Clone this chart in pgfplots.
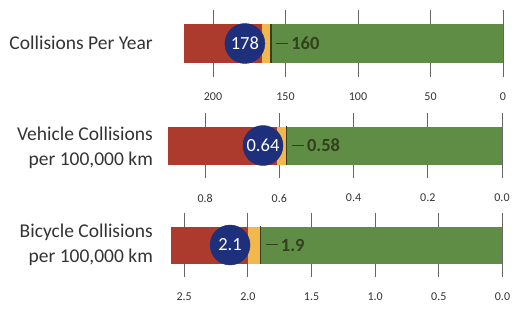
\documentclass[border=0pt]{standalone}
\usepackage{pgfplots}
\pgfplotsset{compat=1.18}
\usepackage{fontspec}
\setmainfont{Carlito}
\definecolor{cred}{HTML}{AC3A2D}
\definecolor{cyel}{HTML}{F2B84C}
\definecolor{cgrn}{HTML}{5F8D45}
\definecolor{cnavy}{HTML}{1E2F7C}
\definecolor{ctgt}{HTML}{33401E}
\definecolor{ctxt}{HTML}{333333}
\pgfplotsset{
  bullet/.style={
    scale only axis,
    anchor=south west,
    x dir=reverse,
    xmin=0,
    ymin=-1, ymax=1,
    ytick=\empty,
    axis line style={draw=none},
    tick style={draw=none},
    xmajorgrids=true,
    grid style={color=black!60, line width=0.9pt},
    xticklabel style={font=\fontsize{12}{13}\selectfont, text=ctxt, yshift=-12.5pt},
    clip=false,
  },
  bband/.style={xbar, bar shift=0pt, draw=none, fill=#1},
}
\newcommand{\tgt}[1]{\raisebox{0.3em}{\rule{12pt}{1pt}}\,#1}
\begin{document}
\begin{tikzpicture}[x=1pt,y=1pt]
\useasboundingbox (0,0) rectangle (517,309);
% Panel 1
\begin{axis}[bullet, at={(184pt,232pt)}, width=319pt, height=67pt, xmax=220,
  xtick={0,50,100,150,200}, xticklabels={0,50,100,150,200}]
\addplot[bband=cred, bar width=39pt] coordinates {(220,0)};
\addplot[bband=cyel, bar width=39pt] coordinates {(166,0)};
\addplot[bband=cgrn, bar width=39pt] coordinates {(160,0)};
\addplot[ctgt, line width=1.4pt] coordinates {(160,-0.58) (160,0.58)};
\addplot[only marks, mark=*, mark size=20pt, mark options={fill=cnavy, draw=cnavy},
  nodes near coords={178}, nodes near coords style={anchor=center, text=white, font=\fontsize{18.5}{20}\selectfont}] coordinates {(178,0)};
\addplot[draw=none, mark=none, nodes near coords={\tgt{160}},
  nodes near coords style={anchor=west, inner sep=0pt, xshift=5pt, text=ctgt, font=\fontsize{18.5}{20}\selectfont\bfseries}] coordinates {(160,0)};
\end{axis}
% Panel 2
\begin{axis}[bullet, at={(168pt,131pt)}, width=334pt, height=65pt, xmax=0.9,
  xtick={0,0.2,0.4,0.6,0.8}, xticklabels={0.0,0.2,0.4,0.6,0.8}]
\addplot[bband=cred, bar width=38pt] coordinates {(0.9,0)};
\addplot[bband=cyel, bar width=38pt] coordinates {(0.606,0)};
\addplot[bband=cgrn, bar width=38pt] coordinates {(0.58,0)};
\addplot[ctgt, line width=1.4pt] coordinates {(0.58,-0.585) (0.58,0.585)};
\addplot[only marks, mark=*, mark size=20pt, mark options={fill=cnavy, draw=cnavy},
  nodes near coords={0.64}, nodes near coords style={anchor=center, text=white, font=\fontsize{18.5}{20}\selectfont}] coordinates {(0.644,0)};
\addplot[draw=none, mark=none, nodes near coords={\tgt{0.58}},
  nodes near coords style={anchor=west, inner sep=0pt, xshift=5pt, text=ctgt, font=\fontsize{18.5}{20}\selectfont\bfseries}] coordinates {(0.58,0)};
\end{axis}
% Panel 3
\begin{axis}[bullet, at={(171.5pt,32pt)}, width=331pt, height=64pt, xmax=2.6,
  xtick={0,0.5,1,1.5,2,2.5}, xticklabels={0.0,0.5,1.0,1.5,2.0,2.5}]
\addplot[bband=cred, bar width=37pt] coordinates {(2.6,0)};
\addplot[bband=cyel, bar width=37pt] coordinates {(2.0,0)};
\addplot[bband=cgrn, bar width=37pt] coordinates {(1.9,0)};
\addplot[ctgt, line width=1.4pt] coordinates {(1.9,-0.58) (1.9,0.58)};
\addplot[only marks, mark=*, mark size=20pt, mark options={fill=cnavy, draw=cnavy},
  nodes near coords={2.1}, nodes near coords style={anchor=center, text=white, font=\fontsize{18.5}{20}\selectfont}] coordinates {(2.14,0)};
\addplot[draw=none, mark=none, nodes near coords={\tgt{1.9}},
  nodes near coords style={anchor=west, inner sep=0pt, xshift=5pt, text=ctgt, font=\fontsize{18.5}{20}\selectfont\bfseries}] coordinates {(1.9,0)};
\end{axis}
% Row labels
\node[anchor=east, inner sep=0pt, align=right, text=ctxt, font=\fontsize{19.5}{25}\selectfont] at (153,266) {Collisions Per Year};
\node[anchor=east, inner sep=0pt, align=right, text=ctxt, font=\fontsize{19.5}{25}\selectfont] at (153,161.5) {Vehicle Collisions\\per 100,000 km};
\node[anchor=east, inner sep=0pt, align=right, text=ctxt, font=\fontsize{19.5}{25}\selectfont] at (153,64) {Bicycle Collisions\\per 100,000 km};
\end{tikzpicture}
\end{document}
